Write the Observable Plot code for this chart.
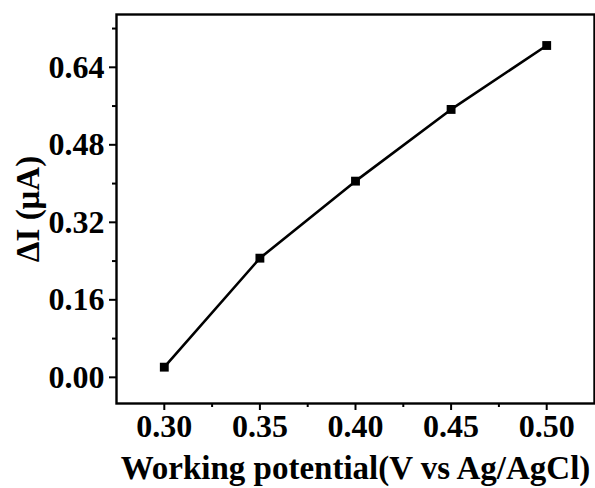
<!DOCTYPE html>
<html>
<head>
<meta charset="utf-8">
<script src="https://cdn.jsdelivr.net/npm/d3@7"></script>
<script src="https://cdn.jsdelivr.net/npm/@observablehq/plot@0.6"></script>
<style>
  html, body { margin: 0; padding: 0; background: #fff; }
</style>
</head>
<body>
<div id="chart"></div>
<script>
// Response current vs. applied working potential
const potentials = [0.30, 0.35, 0.40, 0.45, 0.50];
const deltaI = [0.021, 0.246, 0.405, 0.553, 0.685];

const xMajorTicks = [0.30, 0.35, 0.40, 0.45, 0.50];
const xMinorTicks = [0.325, 0.375, 0.425, 0.475];
const yMajorTicks = [0.00, 0.16, 0.32, 0.48, 0.64];
const yMinorTicks = [0.08, 0.24, 0.40, 0.56, 0.72];

const xTitle = "Working potential(V vs Ag/AgCl)";
const yTitle = "ΔI (μA)";

const data = potentials.map((v, i) => ({potential: v, current: deltaI[i]}));
const fmt = d3.format(".2f");
const tickFont = 32;
const titleFont = 33;

const chart = Plot.plot({
  width: 595,
  height: 488,
  marginLeft: 116,
  marginRight: 1,
  marginTop: 14,
  marginBottom: 85,
  style: {fontFamily: "'Liberation Serif', 'Times New Roman', serif", fontWeight: "bold", color: "#000", background: "#fff"},
  x: {domain: [0.275, 0.525]},
  y: {domain: [-0.054, 0.749]},
  marks: [
    Plot.axisX(xMinorTicks, {tickSize: 4, strokeWidth: 2, text: null, label: null}),
    Plot.axisX(xMajorTicks, {tickSize: 7, strokeWidth: 2, tickPadding: 4, tickFormat: fmt, fontSize: tickFont, label: null}),
    Plot.axisY(yMinorTicks, {tickSize: 4, strokeWidth: 2, text: null, label: null}),
    Plot.axisY(yMajorTicks, {tickSize: 7, strokeWidth: 2, tickPadding: 5, tickFormat: fmt, fontSize: tickFont, label: null}),
    Plot.frame({stroke: "#000", strokeWidth: 2.4}),
    Plot.line(data, {x: "potential", y: "current", stroke: "#000", strokeWidth: 2.6}),
    Plot.dot(data, {x: "potential", y: "current", symbol: "square", r: 5, fill: "#000", stroke: null}),
    Plot.text([xTitle], {frameAnchor: "bottom", textAnchor: "middle", lineAnchor: "bottom", dy: 75, fontSize: titleFont, fontWeight: "bold", fill: "#000"}),
    Plot.text([yTitle], {frameAnchor: "left", textAnchor: "middle", lineAnchor: "middle", dx: -88, rotate: -90, fontSize: titleFont, fontWeight: "bold", fill: "#000"})
  ]
});

document.getElementById("chart").appendChild(chart);
</script>
</body>
</html>
